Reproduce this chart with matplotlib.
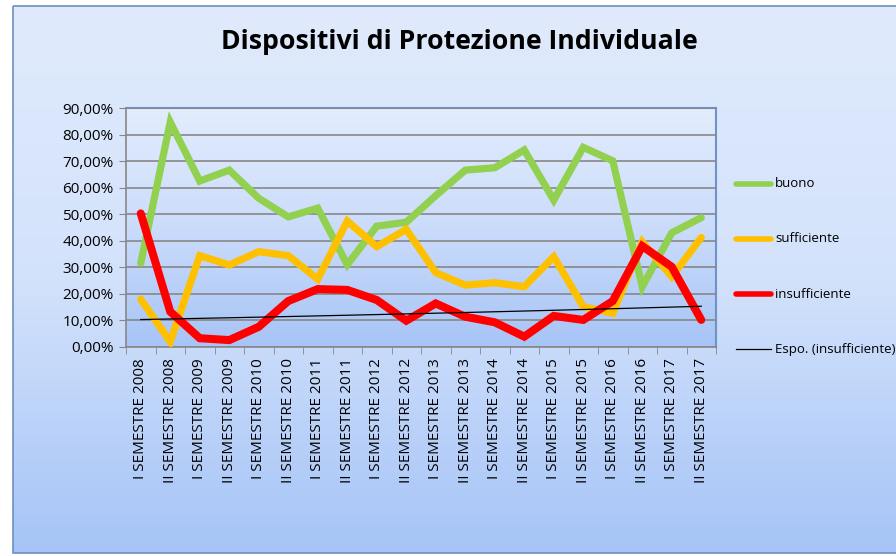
import numpy as np
import matplotlib
matplotlib.use("Agg")
import matplotlib.pyplot as plt
from matplotlib.lines import Line2D
from matplotlib.patches import Rectangle
from matplotlib.ticker import FuncFormatter, FixedLocator
from matplotlib.colors import LinearSegmentedColormap

plt.rcParams['font.family'] = ['Open Sans', 'DejaVu Sans']

title = "Dispositivi di Protezione Individuale"
years = [2008, 2009, 2010, 2011, 2012, 2013, 2014, 2015, 2016, 2017]
categories = [f"{s} SEMESTRE {y}" for y in years for s in ("I", "II")]

buono = [31.6, 84.7, 62.5, 66.6, 56.0, 49.0, 52.3, 31.0, 45.5, 47.0,
         57.0, 66.6, 67.5, 74.2, 55.3, 75.2, 70.1, 22.7, 43.0, 48.7]
sufficiente = [18.0, 2.0, 34.4, 30.9, 35.9, 34.4, 25.6, 47.4, 37.8, 44.3,
               28.0, 23.3, 24.2, 22.7, 34.0, 15.2, 12.7, 39.6, 26.5, 41.2]
insufficiente = [50.3, 13.3, 3.3, 2.6, 7.6, 17.3, 21.8, 21.5, 17.7, 9.9,
                 16.4, 11.4, 9.3, 3.9, 11.7, 10.2, 17.3, 38.0, 30.2, 10.2]

series_labels = ["buono", "sufficiente", "insufficiente"]
trend_label = "Espo. (insufficiente)"
colors = ["#92d050", "#ffc000", "#ff0000"]
y_ticks = [0, 10, 20, 30, 40, 50, 60, 70, 80, 90]

W, H = 896, 556
fig = plt.figure(figsize=(W / 100, H / 100), dpi=100)
fig.patch.set_facecolor("white")

# background chart area gradient
bg = fig.add_axes([0, 0, 1, 1], zorder=-10)
bg.set_xlim(0, W)
bg.set_ylim(H, 0)
bg.axis("off")
cmap_bg = LinearSegmentedColormap.from_list("bg", ["#e0eafc", "#d3e2fb", "#a6c4f7"])
grad = np.linspace(0, 1, 256).reshape(-1, 1)
bg.imshow(grad, cmap=cmap_bg, extent=(13, W + 5, 553, 6), aspect="auto", zorder=0)
bg.add_patch(Rectangle((13, 6), W, 547, fill=False, edgecolor="#6f8fbf", lw=1.2, zorder=1))

ax = fig.add_axes([126 / W, 1 - 347 / H, (716 - 126) / W, (347 - 108) / H])
ax.patch.set_alpha(0)
cmap_pa = LinearSegmentedColormap.from_list("pa", ["#e2ecfd", "#cbdcfb", "#a7c4f6"])
ax.imshow(grad, cmap=cmap_pa, extent=(0, 1, 0, 1), aspect="auto",
          transform=ax.transAxes, zorder=0)

x = np.arange(len(categories))
ax.set_xlim(-0.5, len(categories) - 0.5)
ax.set_ylim(0, 90)

for i, (vals, c) in enumerate(zip([buono, sufficiente, insufficiente], colors)):
    lw = 5.2 if i < 2 else 5.8
    ax.plot(x, vals, color=c, lw=lw, solid_capstyle="round", solid_joinstyle="miter", zorder=3 + i)

# exponential trendline on insufficiente (Excel style: fit ln y vs x=1..n)
xn = x + 1
b, a = np.polyfit(xn, np.log(insufficiente), 1)
trend = np.exp(a) * np.exp(b * xn)
ax.plot(x, trend, color="black", lw=0.9, zorder=7)

ax.yaxis.set_major_locator(FixedLocator(y_ticks))
ax.yaxis.set_major_formatter(FuncFormatter(lambda v, p: f"{v:.2f}%".replace(".", ",")))
ax.grid(axis="y", color="#878787", lw=1.2, zorder=1)
ax.set_axisbelow(False)
ax.set_xticks(x)
ax.set_xticklabels(categories, rotation=90, fontsize=11, color="black")
ax.set_xticks(np.arange(-0.5, len(categories)), minor=True)
ax.tick_params(axis="x", which="major", length=0, pad=8)
ax.tick_params(axis="x", which="minor", length=5, color="#878787", direction="out")
ax.tick_params(axis="y", length=5, color="#878787", labelsize=11, pad=4)

for s in ["top", "right"]:
    ax.spines[s].set_color("#6f93c6")
    ax.spines[s].set_linewidth(1.5)
for s in ["left", "bottom"]:
    ax.spines[s].set_color("#878787")
    ax.spines[s].set_linewidth(1.2)

fig.text(459 / W, 1 - 42 / H, title, ha="center", va="center",
         fontsize=19.2, fontweight="bold")

# legend
leg_y = [184, 239, 294, 349]
for i, lab in enumerate(series_labels + [trend_label]):
    yy = 1 - leg_y[i] / H
    if i < 3:
        fig.add_artist(Line2D([736 / W, 771 / W], [yy, yy], color=colors[i],
                              lw=4.0, solid_capstyle="round", transform=fig.transFigure))
    else:
        fig.add_artist(Line2D([736 / W, 771 / W], [yy, yy], color="black",
                              lw=0.9, transform=fig.transFigure))
    fig.text(775 / W, yy, lab, ha="left", va="center", fontsize=9.5)

fig.savefig("out.png", dpi=100)
